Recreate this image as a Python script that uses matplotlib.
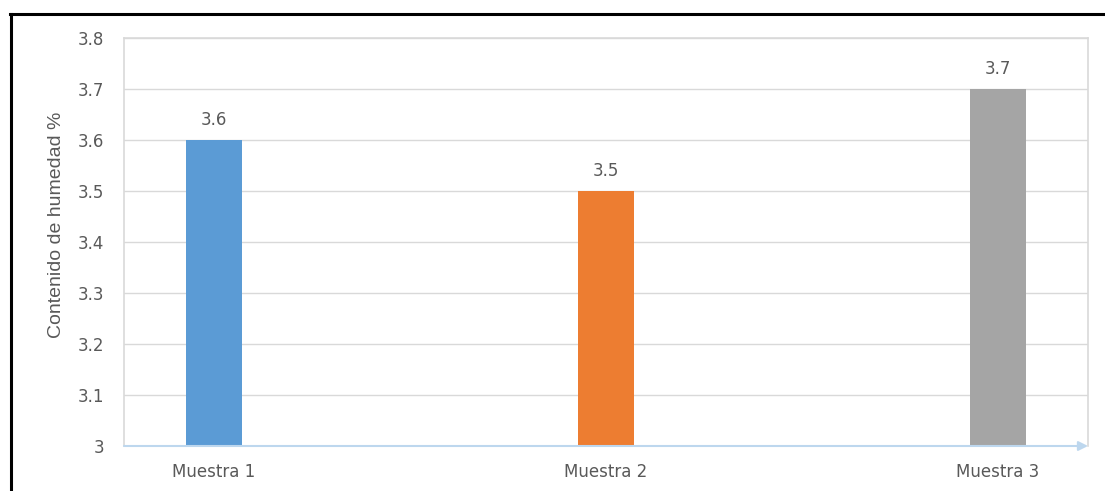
import numpy as np
import matplotlib.pyplot as plt
from matplotlib.lines import Line2D

# datos
muestras = ['Muestra 1', 'Muestra 2', 'Muestra 3']
humedad = [3.6, 3.5, 3.7]
colores = ['#5B9BD5', '#ED7D31', '#A5A5A5']
yticks = [3.0, 3.1, 3.2, 3.3, 3.4, 3.5, 3.6, 3.7, 3.8]
ytick_labels = ['3', '3.1', '3.2', '3.3', '3.4', '3.5', '3.6', '3.7', '3.8']

gris = '#595959'

fig = plt.figure(figsize=(11.05, 4.91), dpi=100)
ax = fig.add_axes([124/1105, 1-446/491, (1088-124)/1105, (446-38)/491])

x = np.arange(len(muestras))
ax.bar(x, [h - 3 for h in humedad], bottom=3, width=0.143, color=colores, zorder=3)

for xi, h in zip(x, humedad):
    ax.text(xi, h + 0.021, f'{h:.1f}', ha='center', va='bottom', fontsize=12, color=gris)

ax.set_xlim(-0.2296, 2.2296)
ax.set_ylim(3.0, 3.8)
ax.set_yticks(yticks)
ax.set_yticklabels(ytick_labels)
ax.set_xticks(x)
ax.set_xticklabels(muestras)
ax.tick_params(axis='both', length=0, colors=gris, labelsize=12)
ax.tick_params(axis='y', pad=14)
ax.tick_params(axis='x', pad=12)
ax.grid(axis='y', color='#D9D9D9', linewidth=1, zorder=0)

for s in ['left', 'right', 'top']:
    ax.spines[s].set_color('#D9D9D9')
    ax.spines[s].set_linewidth(1.2)
ax.spines['bottom'].set_visible(False)

# eje x con flecha
ax.annotate('', xy=(1.0, 0), xytext=(0, 0), xycoords='axes fraction',
            arrowprops=dict(arrowstyle='-|>', color='#BDD7EE', lw=1.5,
                            mutation_scale=14, shrinkA=0, shrinkB=0),
            zorder=4)

ax.set_ylabel('Contenido de humedad %', fontsize=14, color=gris,
              family='Liberation Sans')
ax.yaxis.set_label_coords(-0.061, 0.542)

# marco
fig.add_artist(Line2D([10/1105, 1], [1-14/491, 1-14/491], color='black', lw=2.2, transform=fig.transFigure))
fig.add_artist(Line2D([11/1105, 11/1105], [0, 1-14/491], color='black', lw=2.2, transform=fig.transFigure))

fig.savefig('out.png', dpi=100)
